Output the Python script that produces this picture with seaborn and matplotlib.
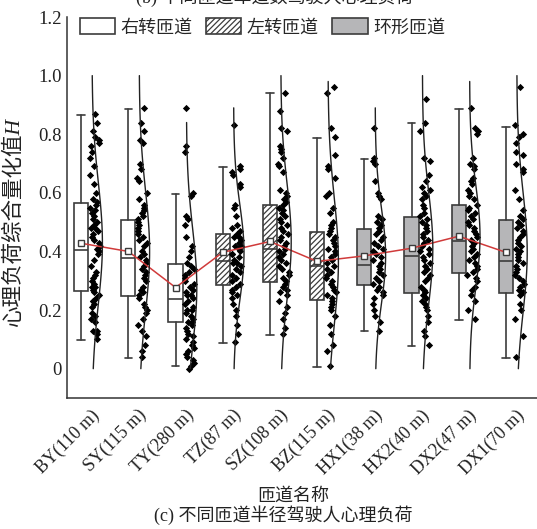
# Driver mental load by ramp radius - box + raincloud style chart

import numpy as np
import pandas as pd
import matplotlib
matplotlib.use("Agg")
import matplotlib.pyplot as plt
import matplotlib.patches as mpatches
import seaborn as sns

sns.set_theme(style="white")
plt.rcParams['font.family'] = ['Liberation Serif', 'Noto Sans CJK SC']
plt.rcParams['hatch.color'] = '#333333'
plt.rcParams['hatch.linewidth'] = 0.9

# ---- data ----
ramps = ['BY(110 m)', 'SY(115 m)', 'TY(280 m)', 'TZ(87 m)', 'SZ(108 m)',
         'BZ(115 m)', 'HX1(38 m)', 'HX2(40 m)', 'DX2(47 m)', 'DX1(70 m)']
ramp_type = ['右转匝道', '右转匝道', '右转匝道', '左转匝道', '左转匝道',
             '左转匝道', '环形匝道', '环形匝道', '环形匝道', '环形匝道']

q1 = [0.266, 0.247, 0.158, 0.286, 0.295, 0.235, 0.286, 0.258, 0.326, 0.257]
med = [0.406, 0.377, 0.238, 0.368, 0.408, 0.352, 0.355, 0.385, 0.436, 0.366]
q3 = [0.567, 0.507, 0.357, 0.459, 0.557, 0.467, 0.476, 0.517, 0.557, 0.507]
whis_lo = [0.099, 0.036, 0.008, 0.086, 0.116, 0.006, 0.127, 0.076, 0.167, 0.036]
whis_hi = [0.866, 0.886, 0.596, 0.688, 0.939, 0.787, 0.717, 0.838, 0.886, 0.826]
means = [0.428, 0.400, 0.277, 0.397, 0.434, 0.366, 0.385, 0.411, 0.452, 0.397]
curve_top = [1.0, 1.0, 0.84, 0.89, 1.0, 0.98, 0.89, 1.0, 0.98, 1.0]

BY = [0.87, 0.84, 0.81, 0.79, 0.78, 0.77, 0.76, 0.74, 0.72, 0.69, 0.66, 0.63, 0.60, 0.58,
      0.57, 0.56, 0.55, 0.54, 0.53, 0.52, 0.51, 0.50, 0.49, 0.48, 0.48, 0.47, 0.46, 0.45,
      0.44, 0.43, 0.42, 0.41, 0.40, 0.39, 0.37, 0.35, 0.33, 0.32, 0.31, 0.30, 0.29, 0.28,
      0.28, 0.27, 0.26, 0.25, 0.24, 0.23, 0.23, 0.22, 0.21, 0.19, 0.18, 0.17, 0.16, 0.13,
      0.13, 0.12, 0.10]
SY = [0.89, 0.84, 0.81, 0.78, 0.77, 0.70, 0.68, 0.65, 0.64, 0.60, 0.58, 0.56, 0.55, 0.54,
      0.53, 0.52, 0.51, 0.50, 0.49, 0.48, 0.47, 0.46, 0.45, 0.44, 0.43, 0.42, 0.40, 0.39,
      0.38, 0.37, 0.36, 0.35, 0.34, 0.33, 0.32, 0.31, 0.30, 0.28, 0.27, 0.26, 0.25, 0.24,
      0.22, 0.21, 0.20, 0.19, 0.17, 0.15, 0.13, 0.11, 0.08, 0.06, 0.04]
TY = [0.89, 0.76, 0.74, 0.60, 0.59, 0.52, 0.51, 0.49, 0.45, 0.42, 0.40, 0.38, 0.36, 0.35,
      0.34, 0.33, 0.32, 0.31, 0.30, 0.29, 0.28, 0.27, 0.26, 0.25, 0.25, 0.24, 0.23, 0.22,
      0.21, 0.20, 0.20, 0.19, 0.18, 0.17, 0.16, 0.16, 0.15, 0.14, 0.13, 0.12, 0.11, 0.10,
      0.09, 0.08, 0.07, 0.06, 0.05, 0.04, 0.03, 0.02, 0.01, 0.00]
TZ = [0.83, 0.69, 0.68, 0.67, 0.66, 0.63, 0.62, 0.56, 0.55, 0.52, 0.49, 0.48, 0.47, 0.46,
      0.45, 0.45, 0.44, 0.43, 0.42, 0.42, 0.41, 0.40, 0.39, 0.39, 0.38, 0.37, 0.36, 0.36,
      0.35, 0.34, 0.33, 0.32, 0.31, 0.30, 0.29, 0.28, 0.27, 0.26, 0.25, 0.24, 0.22, 0.20,
      0.18, 0.15, 0.12, 0.09]
SZ = [0.94, 0.88, 0.82, 0.81, 0.76, 0.75, 0.74, 0.72, 0.70, 0.69, 0.67, 0.61, 0.60, 0.59,
      0.58, 0.57, 0.56, 0.55, 0.54, 0.53, 0.52, 0.51, 0.50, 0.49, 0.48, 0.47, 0.46, 0.45,
      0.44, 0.43, 0.42, 0.41, 0.40, 0.39, 0.38, 0.37, 0.36, 0.35, 0.34, 0.33, 0.32, 0.31,
      0.30, 0.29, 0.28, 0.27, 0.26, 0.25, 0.23, 0.21, 0.19, 0.17, 0.14, 0.12]
BZ = [0.96, 0.94, 0.82, 0.79, 0.73, 0.69, 0.68, 0.65, 0.60, 0.59, 0.55, 0.53, 0.50, 0.49,
      0.48, 0.47, 0.46, 0.45, 0.44, 0.43, 0.42, 0.41, 0.40, 0.39, 0.38, 0.37, 0.36, 0.35,
      0.34, 0.33, 0.32, 0.31, 0.30, 0.29, 0.28, 0.27, 0.26, 0.25, 0.24, 0.23, 0.22, 0.21,
      0.20, 0.18, 0.15, 0.12, 0.08, 0.06, 0.01]
HX1 = [0.82, 0.72, 0.71, 0.70, 0.64, 0.60, 0.59, 0.58, 0.52, 0.51, 0.50, 0.49, 0.48, 0.47,
       0.46, 0.45, 0.44, 0.43, 0.42, 0.41, 0.40, 0.39, 0.38, 0.37, 0.36, 0.35, 0.34, 0.33,
       0.32, 0.31, 0.30, 0.29, 0.28, 0.27, 0.26, 0.25, 0.24, 0.22, 0.20, 0.18, 0.16, 0.13]
HX2 = [0.92, 0.84, 0.81, 0.72, 0.71, 0.66, 0.64, 0.62, 0.61, 0.60, 0.59, 0.58, 0.56, 0.55,
       0.53, 0.52, 0.51, 0.50, 0.49, 0.48, 0.47, 0.46, 0.45, 0.44, 0.43, 0.42, 0.41, 0.40,
       0.39, 0.38, 0.37, 0.36, 0.35, 0.34, 0.33, 0.32, 0.31, 0.30, 0.28, 0.27, 0.26, 0.25,
       0.24, 0.23, 0.22, 0.21, 0.20, 0.18, 0.16, 0.13, 0.11, 0.08]
DX2 = [0.89, 0.82, 0.81, 0.80, 0.72, 0.70, 0.69, 0.68, 0.65, 0.64, 0.63, 0.61, 0.60, 0.59,
       0.58, 0.56, 0.55, 0.54, 0.53, 0.52, 0.51, 0.50, 0.49, 0.48, 0.47, 0.46, 0.45, 0.44,
       0.43, 0.42, 0.41, 0.40, 0.39, 0.38, 0.37, 0.36, 0.35, 0.34, 0.33, 0.32, 0.31, 0.30,
       0.28, 0.27, 0.25, 0.23, 0.20, 0.17]
DX1 = [0.96, 0.83, 0.80, 0.79, 0.77, 0.74, 0.73, 0.70, 0.68, 0.67, 0.61, 0.58, 0.54, 0.52,
       0.51, 0.50, 0.49, 0.48, 0.47, 0.46, 0.45, 0.44, 0.43, 0.42, 0.41, 0.40, 0.39, 0.38,
       0.37, 0.36, 0.35, 0.34, 0.33, 0.32, 0.31, 0.30, 0.29, 0.28, 0.27, 0.26, 0.25, 0.22,
       0.20, 0.17, 0.11, 0.04]
points = [BY, SY, TY, TZ, SZ, BZ, HX1, HX2, DX2, DX1]

type_style = {
    '右转匝道': dict(facecolor='white', hatch=None),
    '左转匝道': dict(facecolor='white', hatch='//////'),
    '环形匝道': dict(facecolor='#b6b6b8', hatch=None),
}
edge = '#3c3c3c'

# long table for the strip plot
pos = np.arange(len(ramps))
df = pd.DataFrame({
    'xpos': np.concatenate([[p + 0.09] * len(v) for p, v in zip(pos, points)]),
    'H': np.concatenate(points),
})

fig = plt.figure(figsize=(5.37, 5.29), dpi=100)
ax = fig.add_axes([67 / 537, (529 - 398) / 529, 472 / 537, 381 / 529])

# boxes from the read statistics
stats = [dict(q1=a, med=m, q3=b, whislo=lo, whishi=hi, mean=mu, fliers=[])
         for a, m, b, lo, hi, mu in zip(q1, med, q3, whis_lo, whis_hi, means)]
bp = ax.bxp(stats, positions=pos - 0.2, widths=0.3, patch_artist=True,
            showfliers=False, showmeans=False, manage_ticks=False,
            boxprops=dict(edgecolor=edge, linewidth=1.2),
            medianprops=dict(color=edge, linewidth=1.2),
            whiskerprops=dict(color=edge, linewidth=1.2),
            capprops=dict(color=edge, linewidth=1.2), capwidths=0.16)
for patch, t in zip(bp['boxes'], ramp_type):
    patch.set_facecolor(type_style[t]['facecolor'])
    if type_style[t]['hatch']:
        patch.set_hatch(type_style[t]['hatch'])

# mean line
sns.lineplot(x=pos - 0.2, y=means, ax=ax, color='#d03a3a', linewidth=1.1,
             marker='s', markersize=4.5, markerfacecolor='white',
             markeredgecolor=edge, markeredgewidth=1.0, zorder=5)

# raw points
np.random.seed(3)
sns.stripplot(data=df, x='xpos', y='H', native_scale=True, jitter=0.11,
              marker='D', color='black', size=3.7, linewidth=0, ax=ax, zorder=4)

# normal distribution outline next to the points
for p, v, mu, top in zip(pos, points, means, curve_top):
    sd = np.std(v)
    yy = np.linspace(0, top, 120)
    dens = np.exp(-0.5 * ((yy - mu) / sd) ** 2)
    ax.plot(p + 0.03 + 0.22 * dens, yy, color='#222222', linewidth=1.0, zorder=6)

ax.set_xlim(-0.5, 9.5)
ax.set_ylim(-0.1, 1.2)
ax.set_xticks(pos)
ax.set_xticklabels(ramps, rotation=45, ha='right', rotation_mode='anchor', fontsize=13)
yt = [0, 0.2, 0.4, 0.6, 0.8, 1.0, 1.2]
ax.set_yticks(yt)
ax.set_yticklabels(['0', '0.2', '0.4', '0.6', '0.8', '1.0', '1.2'], fontsize=13.5)
ax.tick_params(axis='both', direction='in', length=4, width=1, color='#333333',
               labelcolor='#222222')
ax.tick_params(axis='x', pad=6)
ax.tick_params(axis='y', pad=4)
sns.despine(ax=ax, top=True, right=True)
for s in ['left', 'bottom']:
    ax.spines[s].set_color('#333333')
    ax.spines[s].set_linewidth(1.1)

ax.set_xlabel('')
# italic style only changes the Latin "H"; the CJK face has no italic variant
ax.set_ylabel('心理负荷综合量化值H', fontsize=15.5, color='#222222', fontstyle='italic')
ax.yaxis.set_label_coords(-0.092, 0.46)

fig.text(293 / 537, 1 - 496 / 529, '匝道名称', ha='center', va='center',
         fontsize=13, color='#222222')
fig.text(283 / 537, 1 - 515 / 529, '(c) 不同匝道半径驾驶人心理负荷', ha='center',
         va='center', fontsize=13, color='#222222')
fig.text(275 / 537, 1 - 3 / 529, '(b) 不同匝道车道数驾驶人心理负荷', ha='center',
         va='baseline', fontsize=13, color='#222222')

handles = [mpatches.Patch(facecolor=type_style[t]['facecolor'], edgecolor=edge,
                          hatch=type_style[t]['hatch'], linewidth=1.2, label=t)
           for t in ['右转匝道', '左转匝道', '环形匝道']]
fig.legend(handles=handles, ncol=3, loc='upper left',
           bbox_to_anchor=(80 / 537, 1 - 18 / 529), frameon=False, fontsize=13,
           handlelength=1.95, handleheight=1.0, handletextpad=0.3,
           columnspacing=0.75, borderpad=0, borderaxespad=0)

fig.savefig('out.png', dpi=100)
